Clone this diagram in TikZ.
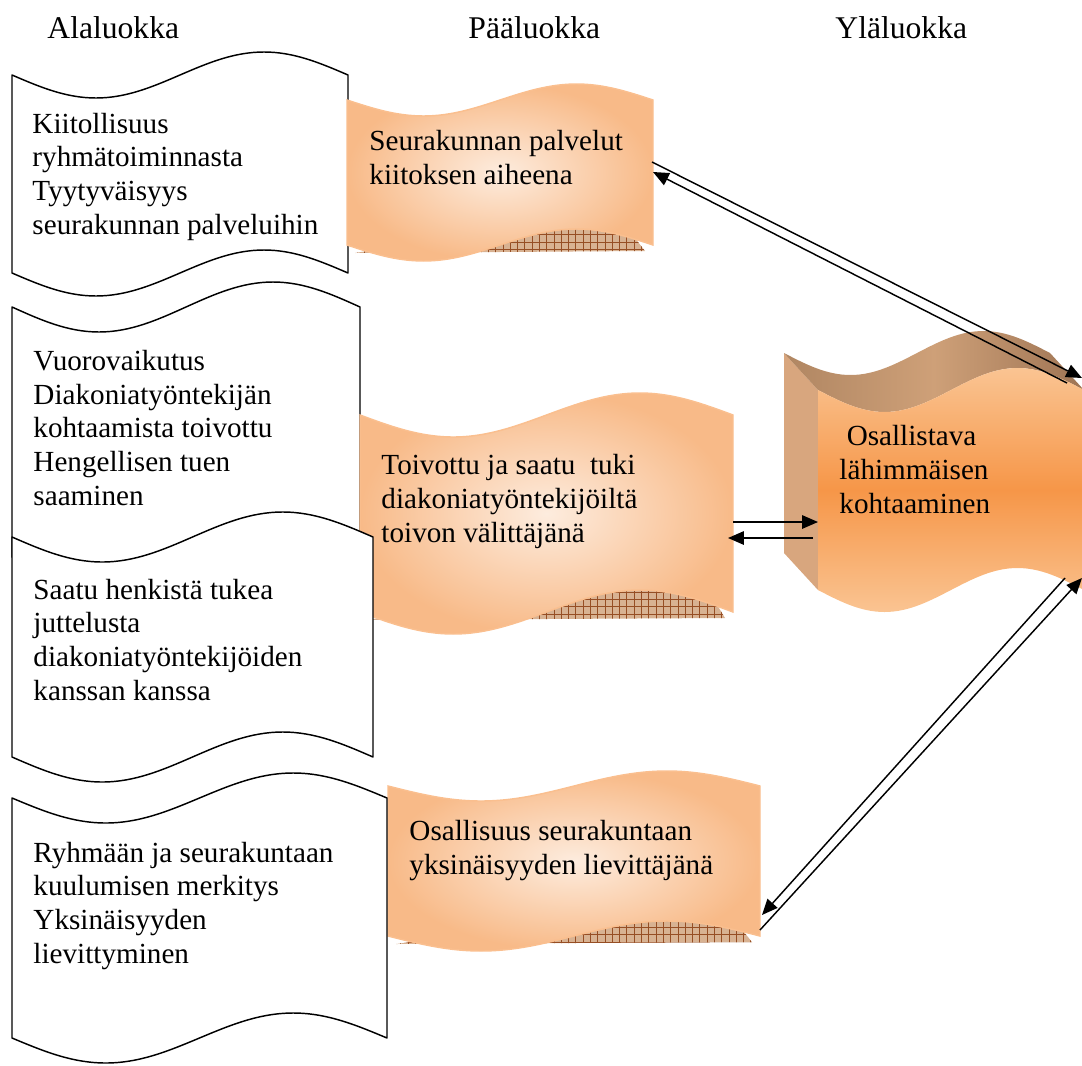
\documentclass[tikz,border=0pt]{standalone}
\usepackage{fontspec}
\setmainfont{Liberation Serif}
\usetikzlibrary{arrows.meta,patterns}

\definecolor{tapeedge}{RGB}{250,191,143}
\definecolor{tapelight}{RGB}{253,236,222}
\definecolor{tapedark}{RGB}{248,186,136}
\definecolor{hatchbg}{RGB}{216,178,146}
\definecolor{hatchline}{RGB}{150,78,36}
\definecolor{boxtop}{RGB}{250,196,146}
\definecolor{boxmid}{RGB}{246,150,72}
\definecolor{boxside}{RGB}{216,166,126}
\definecolor{lidleft}{RGB}{176,134,98}
\definecolor{lidmid}{RGB}{206,160,120}
\definecolor{lidright}{RGB}{158,116,84}

% tape outline: x0, y0, width, height, wave amplitude
\newcommand{\tapepath}[5]{(#1,#2) sin ({#1+#3/4},{#2+#5}) cos ({#1+#3/2},#2)
  sin ({#1+3*#3/4},{#2-#5}) cos ({#1+#3},#2) -- ({#1+#3},{#2+#4})
  sin ({#1+3*#3/4},{#2+#4-#5}) cos ({#1+#3/2},{#2+#4})
  sin ({#1+#3/4},{#2+#4+#5}) cos (#1,{#2+#4}) -- cycle}
% underside seen below the wave
\newcommand{\tapeshadow}[5]{({#1+8},{#2+#4+8}) -- ({#1+#3-8},{#2+#4+6})
  -- ({#1+#3-25},{#2+#4-#5}) -- ({#1+#3/2},{#2+#4-#5}) -- cycle}

\tikzset{
  whitetape/.style={draw=black, fill=white, line width=0.6pt, line join=round},
  orangetape/.style={draw=tapeedge, line width=0.6pt, inner color=tapelight, outer color=tapedark},
  hatchfill/.style={fill=hatchbg, postaction={pattern=grid, pattern color=hatchline}},
  % placed at the baseline of the last line
  boxtext/.style={anchor=base west, align=left, inner sep=0pt, font=\fontsize{12}{13.8}\selectfont},
  headtext/.style={anchor=base west, inner sep=0pt, font=\fontsize{13}{15}\selectfont},
  arr/.style={line width=0.6pt, -{Triangle[length=6.5pt,width=5.5pt]}}
}

\begin{document}
\begin{tikzpicture}[x=0.4115pt, y=-0.4115pt]

  \useasboundingbox (0,0) rectangle (1082,1066);

  % Headings
  \node[headtext] (ala head) at (47,38) {Alaluokka};
  \node[headtext] (paa head) at (468,38) {Pääluokka};
  \node[headtext] (yla head) at (835,38) {Yläluokka};

  % Alaluokka 1
  \draw[whitetape] \tapepath{12}{75}{336}{198}{23};
  \node[boxtext] (ala1) at (32,234) {Kiitollisuus\\ryhmätoiminnasta\\Tyytyväisyys\\seurakunnan palveluihin};

  % Alaluokka 2
  \draw[whitetape] \tapepath{12}{307}{348}{250}{25};
  \node[boxtext] (ala2) at (33,505) {Vuorovaikutus\\Diakoniatyöntekijän\\kohtaamista toivottu\\Hengellisen tuen\\saaminen};

  % Pääluokka 1
  \fill[hatchfill] \tapeshadow{347}{100}{306}{145}{16};
  \draw[orangetape] \tapepath{347}{100}{306}{145}{16};
  \node[boxtext] (paa1) at (369,184) {Seurakunnan palvelut\\kiitoksen aiheena};

  % Pääluokka 2
  \fill[hatchfill] \tapeshadow{360}{415}{373}{197}{22};
  \draw[orangetape] \tapepath{360}{415}{373}{197}{22};
  \node[boxtext] (paa2) at (381,542) {Toivottu ja saatu\ \ tuki\\diakoniatyöntekijöiltä\\toivon välittäjänä};

  % Alaluokka 3
  \draw[whitetape] \tapepath{12}{537}{361}{220}{25};
  \node[boxtext] (ala3) at (33,700) {Saatu henkistä tukea\\juttelusta\\diakoniatyöntekijöiden\\kanssan kanssa};

  % Pääluokka 3
  \fill[hatchfill] \tapeshadow{388}{786}{372}{150}{15};
  \draw[orangetape] \tapepath{388}{786}{372}{150}{15};
  \node[boxtext] (paa3) at (409,874) {Osallisuus seurakuntaan\\yksinäisyyden lievittäjänä};

  % Alaluokka 4
  \draw[whitetape] \tapepath{12}{798}{375}{240}{25};
  \node[boxtext] (ala4) at (33,963) {Ryhmään ja seurakuntaan\\kuulumisen merkitys\\Yksinäisyyden\\lievittyminen};

  % Yläluokka (3D block)
  \fill[boxside] (784,353) -- (818,390) -- (818,590) -- (784,553) -- cycle;
  \shade[left color=lidleft, right color=lidright, middle color=lidmid]
    (784,353) sin (850.5,375) cos (917,353) sin (983.5,331) cos (1050,353)
    -- (1084,390) sin (1017.5,368) cos (951,390) sin (884.5,412) cos (818,390) -- cycle;
  \shade[top color=boxtop, bottom color=boxtop, middle color=boxmid] \tapepath{818}{390}{266}{200}{22};
  \node[boxtext] (yla) at (839,513) {\ Osallistava\\lähimmäisen\\kohtaaminen};

  % Arrow ends
  \coordinate (paa1 out) at (652,162);
  \coordinate (paa1 in) at (653,172);
  \coordinate (yla in1) at (1082,378);
  \coordinate (yla out1) at (1067,383);
  \coordinate (paa2 out) at (733,522);
  \coordinate (paa2 in) at (728,538);
  \coordinate (yla in2) at (818,522);
  \coordinate (yla out2) at (813,538);
  \coordinate (paa3 out) at (760,930);
  \coordinate (paa3 in) at (762,915);
  \coordinate (yla in3) at (1082,578);
  \coordinate (yla out3) at (1065,578);

  % Arrows
  \draw[arr] (paa1 out) -- (yla in1);
  \draw[arr] (yla out1) -- (paa1 in);
  \draw[arr] (paa2 out) -- (yla in2);
  \draw[arr] (yla out2) -- (paa2 in);
  \draw[arr] (paa3 out) -- (yla in3);
  \draw[arr] (yla out3) -- (paa3 in);

\end{tikzpicture}
\end{document}
